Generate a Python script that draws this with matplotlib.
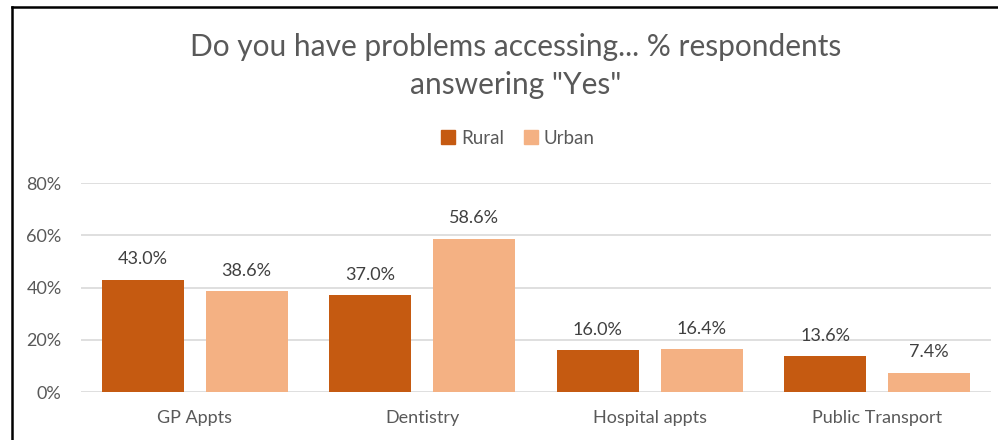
import matplotlib
matplotlib.use("Agg")
import matplotlib.pyplot as plt
from matplotlib.lines import Line2D
import numpy as np

categories = ["GP Appts", "Dentistry", "Hospital appts", "Public Transport"]
rural = [43.0, 37.0, 16.0, 13.6]
urban = [38.6, 58.6, 16.4, 7.4]
yticks = [0, 20, 40, 60, 80]
series_names = ["Rural", "Urban"]

plt.rcParams["font.family"] = ["Lato", "DejaVu Sans"]

fig = plt.figure(figsize=(9.98, 4.4), dpi=100)
ax = fig.add_axes([81 / 998, 1 - 392 / 440, 910 / 998, (392 - 183) / 440])

x = np.arange(len(categories))
width = 0.36
offset = 0.228
c_rural = "#C55A11"
c_urban = "#F4B183"

b1 = ax.bar(x - offset, rural, width, color=c_rural, label=series_names[0], zorder=3)
b2 = ax.bar(x + offset, urban, width, color=c_urban, label=series_names[1], zorder=3)

for bars, vals in ((b1, rural), (b2, urban)):
    for rect, v in zip(bars, vals):
        ax.annotate(f"{v:.1f}%", (rect.get_x() + rect.get_width() / 2, v),
                    xytext=(0, 9), textcoords="offset points",
                    ha="center", va="bottom", fontsize=13, color="#404040")

ax.set_xlim(-0.5, len(categories) - 0.5)
ax.set_ylim(0, 80)
ax.set_yticks(yticks)
ax.set_yticklabels([f"{t}%" for t in yticks])
ax.set_xticks(x)
ax.set_xticklabels(categories)
ax.tick_params(axis="both", length=0, labelsize=13, colors="#595959")
ax.tick_params(axis="x", pad=13)
ax.tick_params(axis="y", pad=14)
ax.yaxis.grid(True, color="#D9D9D9", linewidth=1.2, zorder=0)
for s in ax.spines.values():
    s.set_visible(False)

fig.text(0.517, 1 - 66 / 440, 'Do you have problems accessing... % respondents\nanswering "Yes"',
         ha="center", va="center", fontsize=21.5, color="#595959", linespacing=1.45)

handles = [Line2D([], [], marker="s", linestyle="none", markersize=9.5, color=c_rural),
           Line2D([], [], marker="s", linestyle="none", markersize=9.5, color=c_urban)]
fig.legend(handles, series_names, loc="center", bbox_to_anchor=(0.519, 1 - 138 / 440),
           ncol=2, frameon=False, fontsize=13.5, labelcolor="#595959",
           handletextpad=0.3, columnspacing=1.0, handlelength=0.8)

# chart frame on the left and top edges
fig.add_artist(Line2D([11.5 / 998, 11.5 / 998], [0, 1 - 7 / 440], transform=fig.transFigure,
                      color="black", linewidth=1.8))
fig.add_artist(Line2D([11.5 / 998, 1], [1 - 7 / 440, 1 - 7 / 440], transform=fig.transFigure,
                      color="black", linewidth=1.8))

fig.savefig("out.png", dpi=100)
